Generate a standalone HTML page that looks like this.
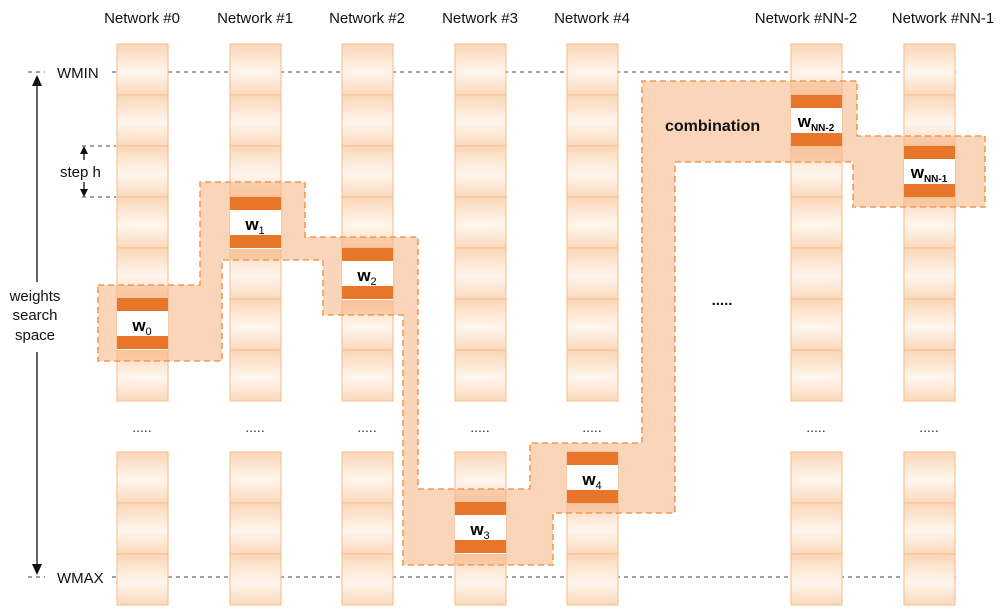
<!DOCTYPE html>
<html><head><style>
body{margin:0;background:#fff;}
svg{display:block;font-family:"Liberation Sans",Arial,sans-serif;}
</style></head><body>
<svg width="1000" height="613" viewBox="0 0 1000 613" xmlns="http://www.w3.org/2000/svg">
<defs>
<linearGradient id="cg" x1="0" y1="0" x2="0" y2="1">
<stop offset="0" stop-color="#fbd6b6"/>
<stop offset="0.55" stop-color="#fff6ee"/>
<stop offset="1" stop-color="#fbd9bb"/>
</linearGradient>
<g id="cell"><rect x="0" y="0" width="51" height="51" fill="url(#cg)" stroke="#f5c49a" stroke-width="1.2"/></g>
</defs>
<!-- headers -->
<g font-size="15" fill="#111" text-anchor="middle">
<text x="142" y="23">Network #0</text>
<text x="255" y="23">Network #1</text>
<text x="367" y="23">Network #2</text>
<text x="480" y="23">Network #3</text>
<text x="592" y="23">Network #4</text>
<text x="806" y="23">Network #NN-2</text>
<text x="943" y="23">Network #NN-1</text>
</g>
<!-- dashed lines -->
<g stroke="#444" stroke-width="1" stroke-dasharray="4,4">
<line x1="28" y1="72" x2="45" y2="72"/><line x1="112" y1="72" x2="957" y2="72"/>
<line x1="28" y1="577" x2="45" y2="577"/><line x1="112" y1="577" x2="957" y2="577"/>
<line x1="82" y1="146" x2="116" y2="146"/><line x1="82" y1="197" x2="116" y2="197"/>
</g>
<g font-size="15" fill="#111">
<text x="57" y="78">WMIN</text>
<text x="57" y="583">WMAX</text>
<text x="60" y="177">step h</text>
<text x="35" y="301" text-anchor="middle">weights</text>
<text x="35" y="320" text-anchor="middle">search</text>
<text x="35" y="340" text-anchor="middle">space</text>
</g>
<!-- arrows -->
<g stroke="#111" stroke-width="1.3" fill="#111">
<line x1="37" y1="84" x2="37" y2="282"/><line x1="37" y1="352" x2="37" y2="566"/>
<polygon points="37,75 32,86 42,86" stroke="none"/>
<polygon points="37,575 32,564 42,564" stroke="none"/>
<line x1="84" y1="152" x2="84" y2="160"/><line x1="84" y1="182" x2="84" y2="191"/>
<polygon points="84,146 80,154 88,154" stroke="none"/>
<polygon points="84,197 80,189 88,189" stroke="none"/>
</g>
<!-- columns -->
<g id="cols">
<g transform="translate(117,0)"><use href="#cell" y="44"/><use href="#cell" y="95"/><use href="#cell" y="146"/><use href="#cell" y="197"/><use href="#cell" y="248"/><use href="#cell" y="299"/><use href="#cell" y="350"/><use href="#cell" y="452"/><use href="#cell" y="503"/><use href="#cell" y="554"/></g>
<g transform="translate(230,0)"><use href="#cell" y="44"/><use href="#cell" y="95"/><use href="#cell" y="146"/><use href="#cell" y="197"/><use href="#cell" y="248"/><use href="#cell" y="299"/><use href="#cell" y="350"/><use href="#cell" y="452"/><use href="#cell" y="503"/><use href="#cell" y="554"/></g>
<g transform="translate(342,0)"><use href="#cell" y="44"/><use href="#cell" y="95"/><use href="#cell" y="146"/><use href="#cell" y="197"/><use href="#cell" y="248"/><use href="#cell" y="299"/><use href="#cell" y="350"/><use href="#cell" y="452"/><use href="#cell" y="503"/><use href="#cell" y="554"/></g>
<g transform="translate(455,0)"><use href="#cell" y="44"/><use href="#cell" y="95"/><use href="#cell" y="146"/><use href="#cell" y="197"/><use href="#cell" y="248"/><use href="#cell" y="299"/><use href="#cell" y="350"/><use href="#cell" y="452"/><use href="#cell" y="503"/><use href="#cell" y="554"/></g>
<g transform="translate(567,0)"><use href="#cell" y="44"/><use href="#cell" y="95"/><use href="#cell" y="146"/><use href="#cell" y="197"/><use href="#cell" y="248"/><use href="#cell" y="299"/><use href="#cell" y="350"/><use href="#cell" y="452"/><use href="#cell" y="503"/><use href="#cell" y="554"/></g>
<g transform="translate(791,0)"><use href="#cell" y="44"/><use href="#cell" y="95"/><use href="#cell" y="146"/><use href="#cell" y="197"/><use href="#cell" y="248"/><use href="#cell" y="299"/><use href="#cell" y="350"/><use href="#cell" y="452"/><use href="#cell" y="503"/><use href="#cell" y="554"/></g>
<g transform="translate(904,0)"><use href="#cell" y="44"/><use href="#cell" y="95"/><use href="#cell" y="146"/><use href="#cell" y="197"/><use href="#cell" y="248"/><use href="#cell" y="299"/><use href="#cell" y="350"/><use href="#cell" y="452"/><use href="#cell" y="503"/><use href="#cell" y="554"/></g>
</g>
<!-- dots -->
<g font-size="14" fill="#333" text-anchor="middle">
<text x="142" y="432">.....</text><text x="255" y="432">.....</text><text x="367" y="432">.....</text>
<text x="480" y="432">.....</text><text x="592" y="432">.....</text><text x="816" y="432">.....</text><text x="929" y="432">.....</text>
<text x="722" y="305" font-weight="bold" font-size="15" fill="#111">.....</text>
</g>
<!-- region -->
<polygon points="98,285 200,285 200,182 305,182 305,237 418,237 418,489 530,489 530,443 642,443 642,81 857,81 857,136 985,136 985,207 853,207 853,162 675,162 675,513 553,513 553,565 403,565 403,315 323,315 323,260 222,260 222,361 98,361" fill="#f7b98a" fill-opacity="0.6" stroke="#f09a55" stroke-width="1.6" stroke-dasharray="6,4"/>
<text x="665" y="131" font-size="16" font-weight="bold" fill="#111">combination</text>
<!-- weight cells -->
<g>
<g transform="translate(117,298)"><rect width="51" height="52" fill="#fff"/><rect width="51" height="13" fill="#e8762a"/><rect y="38" width="51" height="13" fill="#e8762a"/><text x="25" y="33" font-size="17" font-weight="bold" text-anchor="middle">w<tspan font-size="11" font-weight="normal" dy="4">0</tspan></text></g>
<g transform="translate(230,197)"><rect width="51" height="52" fill="#fff"/><rect width="51" height="13" fill="#e8762a"/><rect y="38" width="51" height="13" fill="#e8762a"/><text x="25" y="33" font-size="17" font-weight="bold" text-anchor="middle">w<tspan font-size="11" font-weight="normal" dy="4">1</tspan></text></g>
<g transform="translate(342,248)"><rect width="51" height="52" fill="#fff"/><rect width="51" height="13" fill="#e8762a"/><rect y="38" width="51" height="13" fill="#e8762a"/><text x="25" y="33" font-size="17" font-weight="bold" text-anchor="middle">w<tspan font-size="11" font-weight="normal" dy="4">2</tspan></text></g>
<g transform="translate(455,502)"><rect width="51" height="52" fill="#fff"/><rect width="51" height="13" fill="#e8762a"/><rect y="38" width="51" height="13" fill="#e8762a"/><text x="25" y="33" font-size="17" font-weight="bold" text-anchor="middle">w<tspan font-size="11" font-weight="normal" dy="4">3</tspan></text></g>
<g transform="translate(567,452)"><rect width="51" height="51" fill="#fff"/><rect width="51" height="13" fill="#e8762a"/><rect y="38" width="51" height="13" fill="#e8762a"/><text x="25" y="33" font-size="17" font-weight="bold" text-anchor="middle">w<tspan font-size="11" font-weight="normal" dy="4">4</tspan></text></g>
<g transform="translate(791,95)"><rect width="51" height="51" fill="#fff"/><rect width="51" height="13" fill="#e8762a"/><rect y="38" width="51" height="13" fill="#e8762a"/><text x="25" y="32" font-size="17" font-weight="bold" text-anchor="middle">w<tspan font-size="10" dy="4">NN-2</tspan></text></g>
<g transform="translate(904,146)"><rect width="51" height="51" fill="#fff"/><rect width="51" height="13" fill="#e8762a"/><rect y="38" width="51" height="13" fill="#e8762a"/><text x="25" y="32" font-size="17" font-weight="bold" text-anchor="middle">w<tspan font-size="10" dy="4">NN-1</tspan></text></g>
</g>
</svg>
</body></html>
